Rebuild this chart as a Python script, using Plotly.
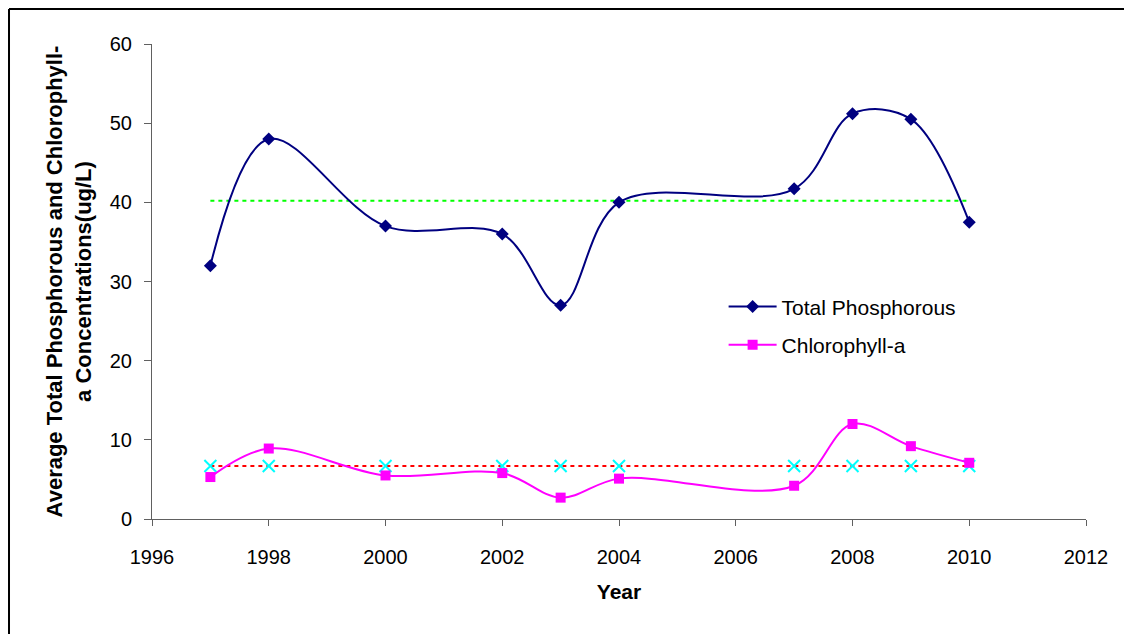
import plotly.graph_objects as go

years = [1997, 1998, 2000, 2002, 2003, 2004, 2007, 2008, 2009, 2010]
total_phosphorous = [32.0, 48.0, 37.0, 36.0, 27.0, 40.0, 41.7, 51.2, 50.5, 37.5]
chlorophyll_a = [5.3, 8.9, 5.5, 5.8, 2.7, 5.1, 4.2, 12.0, 9.2, 7.1]
tp_standard = [40.2] * len(years)
chl_standard = [6.7] * len(years)

x_ticks = [1996, 1998, 2000, 2002, 2004, 2006, 2008, 2010, 2012]
y_ticks = [0, 10, 20, 30, 40, 50, 60]

fig = go.Figure()

fig.add_trace(go.Scatter(
    x=years, y=tp_standard, mode="lines", showlegend=False,
    line=dict(color="#00ff00", width=2, dash="4px,4px"), hoverinfo="skip"))
fig.add_trace(go.Scatter(
    x=years, y=chl_standard, mode="lines+markers", showlegend=False,
    line=dict(color="#ff0000", width=2, dash="4px,4px"),
    marker=dict(symbol="x-thin", size=12, line=dict(color="#00ffff", width=2), color="#00ffff")))

fig.add_trace(go.Scatter(
    x=years, y=total_phosphorous, mode="lines+markers", name="Total Phosphorous",
    legendgroup="a",
    line=dict(color="#000080", width=2, shape="spline", smoothing=1.0),
    marker=dict(symbol="diamond", size=10, color="#000080")))
fig.add_trace(go.Scatter(
    x=years, y=chlorophyll_a, mode="lines+markers", name="Chlorophyll-a",
    legendgroup="b",
    line=dict(color="#ff00ff", width=2, shape="spline", smoothing=1.0),
    marker=dict(symbol="square", size=10, color="#ff00ff")))

axis_color = "#606060"
fig.update_layout(
    width=1124, height=626,
    margin=dict(l=144, r=46, t=36, b=115),
    paper_bgcolor="white", plot_bgcolor="white",
    font=dict(family="Liberation Sans, Arial, sans-serif", size=20, color="black"),
    xaxis=dict(range=[1996, 2012], tickvals=x_ticks, ticks="outside", ticklen=6,
               tickcolor=axis_color, showline=True, linecolor=axis_color, linewidth=1,
               showgrid=False, zeroline=False, ticklabelstandoff=14,
               title=dict(text="<b>Year</b>", font=dict(size=21), standoff=17)),
    yaxis=dict(range=[0, 60], tickvals=y_ticks, ticks="outside", ticklen=7,
               tickcolor=axis_color, showline=True, linecolor=axis_color, linewidth=1,
               showgrid=False, zeroline=False, ticklabelstandoff=8,
               title=dict(text="<b>Average Total Phosphorous and Chlorophyll-<br>a Concentrations(ug/L)</b>",
                          font=dict(size=22), standoff=12)),
    legend=dict(x=0.612, y=0.49, xanchor="left", yanchor="top", bgcolor="rgba(0,0,0,0)",
                tracegroupgap=8, itemwidth=48, font=dict(size=21)),
    shapes=[
        dict(type="line", xref="paper", yref="paper", x0=-0.1531, x1=-0.1531, y0=1.0737, y1=-0.26,
             line=dict(color="black", width=2)),
        dict(type="line", xref="paper", yref="paper", x0=-0.1531, x1=1.06, y0=1.0737, y1=1.0737,
             line=dict(color="black", width=2)),
    ],
)

fig.write_html("out.html")
